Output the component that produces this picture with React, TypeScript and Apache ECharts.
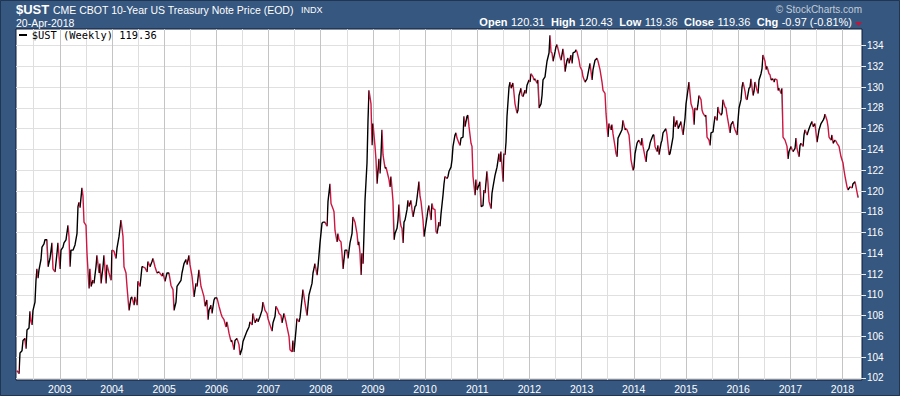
import React, { useEffect, useRef } from 'react';
import * as echarts from 'echarts';

// Weekly closes as [week index, close]; week 0 is the first week shown (early March 2002)
const FIRST_WEEK_YEAR = 2002.18;

const closes2002 = [[0,102.7],[2,102.4],[3,104.4],[5,104.6],[6,105.6],[8,105.8],[9,104.8],[10,106.6],[12,106.8],[13,108.4],[14,107.4],[15,107.1],[16,108.5],[18,109.3],[19,111.4],[20,112.5],[21,111.6],[22,112.4],[24,113.4],[25,114.6],[27,114.9],[28,115.3],[30,115.3],[31,112.7],[33,113.5],[35,115.0],[36,112.5],[38,112.2],[40,114.0],[41,115.0]];
const closes2003 = [[43,112.5],[44,114.3],[46,114.6],[47,115.0],[49,115.3],[51,116.7],[52,115.6],[53,112.7],[54,114.3],[56,114.3],[58,114.8],[60,115.9],[61,118.5],[62,118.9],[63,118.4],[65,120.3],[66,119.5],[67,117.0],[69,116.7],[70,114.0],[72,110.6],[73,112.5],[74,110.8],[76,111.4],[77,111.1],[79,112.7],[80,113.8],[82,112.1],[83,113.0],[84,111.1],[86,112.7],[87,113.8],[89,111.1],[90,112.9],[92,112.1],[94,111.4]];
const closes2004 = [[95,114.3],[97,114.2],[99,113.5],[100,114.5],[102,115.6],[104,117.2],[106,115.6],[107,112.7],[109,112.1],[110,110.8],[112,108.5],[114,109.7],[115,109.8],[117,109.0],[118,109.8],[120,109.0],[121,111.3],[123,110.8],[125,112.7],[126,112.7],[128,112.6],[130,112.2],[131,113.2],[133,112.7],[135,113.2],[136,113.5],[138,112.7],[140,112.1],[142,112.2],[145,111.8],[146,112.1]];
const closes2005 = [[148,111.3],[150,112.1],[152,112.1],[154,110.9],[156,110.5],[157,108.5],[159,109.3],[160,110.8],[162,111.1],[164,111.4],[165,112.1],[167,113.0],[169,113.4],[170,112.9],[172,113.8],[173,112.9],[175,111.8],[176,110.9],[177,109.8],[179,111.1],[180,110.8],[182,112.4],[184,110.8],[185,110.5],[187,109.8],[188,108.9],[190,109.5],[191,107.6],[192,108.5],[194,109.0],[195,108.2],[197,109.5],[198,109.7]];
const closes2006 = [[200,109.7],[202,108.9],[204,108.2],[205,107.9],[207,107.6],[209,106.9],[210,107.4],[212,106.3],[214,105.5],[215,105.6],[217,104.7],[218,105.6],[220,105.8],[222,105.2],[223,104.2],[225,104.8],[226,105.5],[228,106.0],[230,106.5],[232,106.9],[233,107.4],[235,107.1],[236,108.2],[238,107.3],[240,107.7],[241,107.4],[243,107.9],[245,108.5],[246,109.3],[248,108.5],[250,108.2]];
const closes2007 = [[251,107.7],[253,107.1],[255,106.5],[256,107.3],[258,107.9],[259,108.9],[261,108.5],[262,108.2],[264,108.0],[265,107.3],[267,108.2],[269,107.4],[270,106.9],[272,106.0],[273,104.7],[275,104.5],[276,105.6],[277,104.5],[279,106.6],[280,107.7],[282,107.4],[283,107.8],[286,110.5],[288,109.2],[290,108.0],[292,110.0],[295,111.1],[296,112.1],[298,113.0],[300,111.9],[301,112.7],[303,115.0]];
const closes2008 = [[305,116.9],[306,117.0],[308,117.0],[310,116.6],[311,119.0],[313,120.7],[314,118.8],[316,118.3],[317,118.0],[318,116.2],[320,115.1],[321,115.9],[322,115.3],[324,115.1],[325,114.0],[326,112.5],[328,114.3],[330,114.3],[331,113.5],[333,115.0],[335,115.9],[336,117.5],[338,117.0],[340,115.9],[341,114.8],[342,115.1],[343,114.0],[344,111.9],[345,114.0],[346,113.0],[347,115.9],[348,119.1],[350,122.7],[351,126.8],[352,129.7],[354,128.4],[355,124.4]];
const closes2009 = [[356,126.5],[358,124.3],[359,123.0],[360,120.7],[362,123.1],[363,121.7],[364,123.5],[365,125.9],[366,123.5],[368,122.2],[369,122.3],[370,121.9],[372,121.1],[373,120.4],[374,121.4],[376,119.0],[377,115.3],[378,115.9],[380,116.4],[381,117.2],[382,118.7],[383,117.2],[384,116.6],[385,116.4],[386,115.0],[387,117.0],[388,117.2],[390,118.2],[391,119.1],[392,118.5],[394,119.1],[395,118.2],[396,117.5],[398,118.5],[399,118.6],[400,119.3],[402,120.9],[403,119.5],[404,119.0],[406,117.2],[407,115.6]];
const closes2010 = [[408,116.2],[410,117.5],[411,118.2],[412,118.6],[414,117.2],[415,118.8],[416,118.3],[418,118.2],[419,116.1],[420,115.9],[422,117.0],[423,116.6],[424,117.8],[426,119.6],[427,120.7],[428,121.4],[430,121.2],[431,121.4],[432,121.9],[434,122.3],[435,123.0],[436,124.3],[438,125.4],[439,125.6],[440,125.1],[442,124.6],[443,124.4],[444,125.1],[446,125.2],[447,127.2],[448,126.2],[450,127.2],[451,127.3],[452,126.2],[454,124.6],[455,124.3],[456,121.4],[458,119.6],[459,121.1]];
const closes2011 = [[460,120.1],[462,120.6],[463,120.9],[464,118.5],[466,118.6],[467,120.1],[468,119.8],[470,121.9],[471,120.7],[472,119.0],[474,118.3],[475,119.8],[476,120.4],[478,121.5],[479,121.9],[480,122.3],[482,123.6],[483,122.8],[484,123.8],[486,120.9],[487,123.6],[488,123.5],[489,124.7],[490,127.2],[492,130.0],[493,130.5],[494,129.9],[496,130.4],[497,129.4],[498,128.4],[500,127.5],[501,127.8],[502,129.2],[504,129.9],[505,129.2],[506,129.1],[508,129.7],[509,129.4],[510,130.2],[512,130.7]];
const closes2012 = [[513,130.5],[514,131.3],[516,131.0],[517,130.7],[518,130.8],[520,130.4],[521,130.7],[522,128.0],[524,128.4],[525,129.2],[526,130.7],[528,131.0],[529,131.8],[530,132.5],[532,133.3],[533,135.0],[534,133.4],[535,133.3],[536,132.5],[538,133.4],[539,133.9],[540,134.1],[542,133.3],[543,132.9],[544,132.6],[546,133.7],[547,132.9],[548,131.5],[550,132.6],[551,132.8],[552,132.3],[554,133.1],[555,132.3],[556,133.3],[558,133.4],[559,133.6],[560,133.4],[562,132.6],[563,132.0]];
const closes2013 = [[565,131.6],[566,131.0],[568,130.5],[570,130.8],[571,131.3],[573,132.3],[575,130.7],[576,131.7],[578,132.6],[580,132.8],[581,132.5],[583,131.7],[585,130.5],[586,129.7],[588,129.4],[589,127.5],[590,126.2],[591,125.2],[592,126.5],[594,125.9],[595,126.4],[596,125.5],[598,124.3],[599,123.6],[600,123.3],[601,125.1],[603,125.5],[605,125.9],[606,126.8],[608,125.9],[609,126.0],[610,125.9],[612,125.4],[613,124.3],[614,123.0],[616,122.0],[617,122.3]];
const closes2014 = [[618,123.6],[620,124.6],[621,124.8],[622,124.9],[624,124.4],[625,125.1],[626,124.3],[628,123.3],[629,122.8],[630,123.8],[632,124.1],[633,124.6],[634,124.9],[636,125.4],[637,125.4],[638,124.3],[640,123.8],[641,124.4],[642,123.5],[644,124.6],[645,124.9],[646,125.6],[648,125.9],[649,126.0],[650,125.4],[652,123.5],[653,123.6],[654,124.1],[656,125.2],[657,127.2],[658,126.2],[660,126.8],[661,126.0],[662,126.2],[664,126.7],[665,126.0],[666,125.4],[668,127.0],[669,128.4]];
const closes2015 = [[670,129.1],[672,130.5],[673,129.4],[674,128.4],[676,127.8],[677,126.4],[678,128.0],[680,127.8],[681,128.4],[682,129.2],[684,128.8],[685,127.8],[686,127.5],[688,127.2],[689,127.3],[690,125.2],[692,124.9],[693,124.4],[694,125.6],[696,125.7],[697,126.5],[698,127.2],[700,126.8],[701,128.1],[702,127.6],[704,127.3],[705,127.5],[706,128.8],[708,128.1],[709,128.0],[710,127.3],[712,126.2],[713,125.6],[714,126.4],[716,126.7],[717,126.2],[718,125.9],[720,125.4]];
const closes2016 = [[721,126.8],[722,128.0],[724,128.8],[725,130.0],[726,130.5],[728,129.6],[729,128.9],[730,128.8],[732,129.9],[733,130.0],[734,130.8],[736,129.2],[737,129.6],[738,130.5],[740,129.7],[741,129.4],[742,130.7],[744,131.3],[745,131.8],[746,133.1],[748,132.5],[749,131.7],[750,132.0],[752,131.3],[753,131.2],[754,130.7],[756,130.8],[757,130.5],[758,130.8],[760,130.7],[761,129.7],[762,129.9],[764,129.4],[765,129.9],[766,125.2],[768,124.9],[770,124.3],[771,123.1],[772,123.8]];
const closes2017 = [[774,124.3],[775,124.0],[776,123.8],[778,124.1],[779,125.1],[780,124.1],[782,123.3],[783,124.4],[784,124.6],[786,124.3],[787,125.4],[788,125.9],[790,125.4],[791,125.7],[792,126.0],[794,126.5],[795,126.7],[796,126.2],[798,126.5],[799,125.6],[800,124.7],[802,125.9],[803,126.2],[804,126.5],[806,126.8],[807,127.0],[808,127.4],[810,126.8],[811,126.2],[812,125.2],[814,124.9],[815,125.4],[816,124.6],[818,124.9],[819,124.8],[820,124.6],[822,124.3],[823,123.8],[824,123.3]];
const closes2018 = [[826,122.7],[827,122.0],[828,121.4],[830,120.4],[831,120.1],[833,120.4],[835,120.3],[836,120.7],[838,120.9],[839,120.4],[841,119.36]];

const YEAR_LABELS = [2003, 2004, 2005, 2006, 2007, 2008, 2009, 2010, 2011, 2012, 2013, 2014, 2015, 2016, 2017, 2018];
const PRICE_TICKS = [102, 104, 106, 108, 110, 112, 114, 116, 118, 120, 122, 124, 126, 128, 130, 132, 134];

const SYMBOL = '$UST';
const TITLE = 'CME CBOT 10-Year US Treasury Note Price (EOD)';
const EXCHANGE = 'INDX';
const AS_OF = '20-Apr-2018';
const OHLC_LABELS = ['Open', 'High', 'Low', 'Close', 'Chg'];
const OHLC_VALUES = ['120.31', '120.43', '119.36', '119.36', '-0.97 (-0.81%)'];
const LEGEND_LABEL = '$UST (Weekly) 119.36';
const CREDIT = '\u00A9 StockCharts.com';

const X_MIN = 2002.161;
const X_MAX = 2018.374;
const Y_MIN = 101.79;
const Y_MAX = 135.61;

const BG = '#36577f';
const UP = '#000000';
const DOWN = '#cc1540';
const SANS = '"Liberation Sans", Arial, sans-serif';

export default function App() {
  const ref = useRef<HTMLDivElement>(null);

  useEffect(() => {
    const chart = echarts.init(ref.current!, null, { renderer: 'svg' });
    const weekly = [
      ...closes2002, ...closes2003, ...closes2004, ...closes2005, ...closes2006, ...closes2007,
      ...closes2008, ...closes2009, ...closes2010, ...closes2011, ...closes2012, ...closes2013,
      ...closes2014, ...closes2015, ...closes2016, ...closes2017, ...closes2018,
    ];
    const data = weekly.map(([w, c]) => [FIRST_WEEK_YEAR + (w * 7) / 365.25, c]);

    const pieces: any[] = [];
    for (let i = 1; i < data.length; i++) {
      const color = data[i][1] >= data[i - 1][1] ? UP : DOWN;
      const last = pieces[pieces.length - 1];
      if (last && last.color === color) last.lte = data[i][0];
      else pieces.push({ gt: data[i - 1][0], lte: data[i][0], color });
    }

    const gridTicks: number[] = [];
    YEAR_LABELS.forEach((y) => { gridTicks.push(y - 0.5, y); });

    let ohlcText = '';
    OHLC_LABELS.forEach((l, i) => {
      ohlcText += `{${i === 0 ? 'b0' : 'b'}|${l}}{v|${OHLC_VALUES[i]}}`;
    });

    chart.setOption({
      animation: false,
      backgroundColor: BG,
      grid: {
        show: true, left: 16, top: 29, right: 38, bottom: 16,
        backgroundColor: '#ffffff', borderColor: '#0d1a36', borderWidth: 1,
        containLabel: false, outerBoundsMode: 'none',
      },
      visualMap: {
        show: false, type: 'piecewise', dimension: 0, seriesIndex: 0,
        pieces, outOfRange: { color: UP },
      },
      xAxis: {
        type: 'value', min: X_MIN, max: X_MAX,
        axisLine: { show: false },
        axisTick: { show: false, customValues: gridTicks },
        axisLabel: {
          customValues: YEAR_LABELS, formatter: (v: number) => String(Math.round(v)),
          color: '#ffffff', fontSize: 10.5, fontFamily: SANS, margin: 3,
        },
        splitLine: { show: true, lineStyle: { color: ['#dedede', '#c4c4c4'], width: 1 } },
      },
      yAxis: {
        type: 'value', position: 'right', min: Y_MIN, max: Y_MAX,
        axisLine: { show: false },
        axisTick: { show: true, customValues: PRICE_TICKS, length: 4, lineStyle: { color: '#e6ecf3' } },
        axisLabel: { customValues: PRICE_TICKS, color: '#ffffff', fontSize: 10, fontFamily: SANS, margin: 5 },
        splitLine: { show: true, lineStyle: { color: '#e0e0e0', width: 1 } },
      },
      series: [{
        type: 'line', data, showSymbol: false, symbol: 'none',
        lineStyle: { width: 1.4 }, silent: true,
      }],
      graphic: [
        { type: 'rect', shape: { x: 0.5, y: 0.5, width: 899, height: 395 }, style: { fill: 'none', stroke: '#1f3552', lineWidth: 1 }, z: 100 },
        { type: 'text', x: 16, y: 9.5, style: { text: SYMBOL, fill: '#ffffff', font: `bold 13px ${SANS}`, align: 'left', verticalAlign: 'middle', textAlign: 'left', textVerticalAlign: 'middle' } },
        { type: 'text', x: 53, y: 10.4, style: { text: TITLE, fill: '#ffffff', font: `10.5px ${SANS}`, align: 'left', verticalAlign: 'middle', textAlign: 'left', textVerticalAlign: 'middle' } },
        { type: 'text', x: 301, y: 9.9, style: { text: EXCHANGE, fill: '#ffffff', font: `9px ${SANS}`, align: 'left', verticalAlign: 'middle', textAlign: 'left', textVerticalAlign: 'middle' } },
        { type: 'text', x: 16, y: 23, style: { text: AS_OF, fill: '#ffffff', font: `10.5px ${SANS}`, align: 'left', verticalAlign: 'middle', textAlign: 'left', textVerticalAlign: 'middle' } },
        { type: 'text', x: 862, y: 9.2, style: { text: CREDIT, fill: '#c3ccd8', font: `10px ${SANS}`, align: 'right', verticalAlign: 'middle', textAlign: 'right', textVerticalAlign: 'middle' } },
        {
          type: 'text', x: 852, y: 22.2,
          style: {
            text: ohlcText, fill: '#ffffff', font: `11px ${SANS}`,
            align: 'right', verticalAlign: 'middle', textAlign: 'right', textVerticalAlign: 'middle',
            rich: {
              b0: { font: `bold 11px ${SANS}`, fill: '#ffffff' },
              b: { font: `bold 11px ${SANS}`, fill: '#ffffff', padding: [0, 0, 0, 6.5] },
              v: { font: `11px ${SANS}`, fill: '#ffffff', padding: [0, 0, 0, 3.5] },
            },
          },
        },
        { type: 'polygon', shape: { points: [[855, 22], [862, 22], [858.5, 26]] }, style: { fill: '#c0163c' } },
        { type: 'rect', shape: { x: 19, y: 34, width: 8, height: 2 }, style: { fill: '#000000' }, z: 50 },
        { type: 'text', x: 31.7, y: 35.1, z: 50, style: { text: LEGEND_LABEL, fill: '#000000', font: `10.4px "DejaVu Sans Mono", monospace`, align: 'left', verticalAlign: 'middle', textAlign: 'left', textVerticalAlign: 'middle' } },
      ],
    });

    return () => chart.dispose();
  }, []);

  return <div ref={ref} style={{ position: 'absolute', left: 0, top: 0, width: 900, height: 396 }} />;
}
